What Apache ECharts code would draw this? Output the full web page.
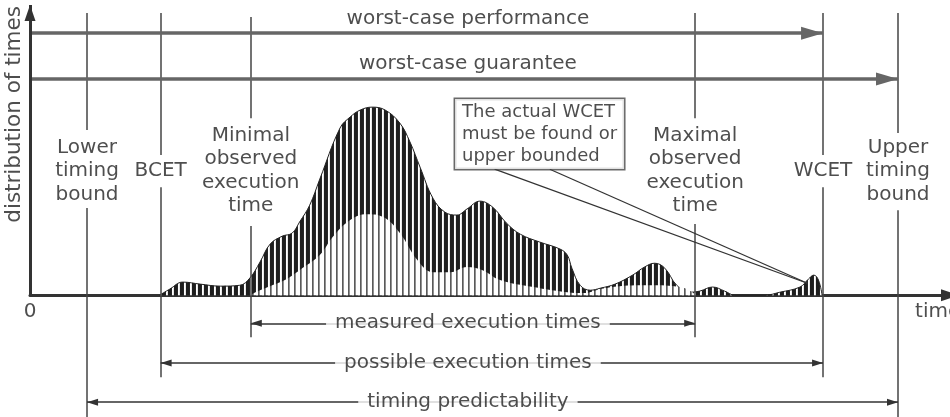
<!DOCTYPE html>
<html>
<head>
<meta charset="utf-8">
<script src="https://cdn.jsdelivr.net/npm/echarts@6/dist/echarts.min.js"></script>
<style>
  html, body { margin: 0; background: #fff; }
  #chart { width: 950px; height: 417px; }
</style>
</head>
<body>
<div id="chart"></div>
<script>
// time runs 0..100 (arbitrary units), distribution height 0..100
const eventNames = ['Lower\ntiming\nbound', 'BCET', 'Minimal\nobserved\nexecution\ntime',
  'Maximal\nobserved\nexecution\ntime', 'WCET', 'Upper\ntiming\nbound']
const eventTimes = [6.2, 14.2, 24.0, 72.3, 86.2, 94.35]

// all possible execution times (dark)
const possibleTimes = [14.1, 15.2, 16.6, 18.5, 20.7, 22.8, 23.9, 25.0, 26.1, 27.4, 28.5, 29.3, 30.4, 31.5,
  33.7, 34.8, 35.9, 37.2, 38.6, 40.2, 41.3, 42.4, 43.8, 45.1, 46.4, 47.5, 48.9, 50.3, 51.8, 53.3, 55.4,
  57.6, 58.4, 58.9, 59.8, 60.9, 62.0, 63.6, 65.5, 66.8, 67.9, 69.0, 70.3, 71.7, 72.8, 74.2, 75.5, 76.6,
  79.9, 81.5, 83.7, 84.6, 85.2, 85.7, 86.1]
const possibleDist = [0, 2.1, 4.5, 3.8, 3.1, 3.4, 5.9, 11.4, 17.6, 20.3, 21.4, 25.2, 31.0, 40.0,
  57.6, 61.4, 63.8, 64.8, 63.8, 59.3, 52.8, 44.1, 33.4, 28.6, 27.6, 29.7, 32.4, 30.3, 24.8, 21.0, 18.3,
  15.9, 13.8, 9.3, 3.4, 1.7, 2.4, 3.8, 6.9, 9.7, 11.0, 9.3, 3.4, 1.0, 1.4, 2.8, 1.4, 0,
  0, 1.0, 2.8, 5.5, 6.9, 5.2, 0]

// measured execution times (light)
const measuredTimes = [23.9, 25.0, 26.1, 27.7, 29.3, 31.5, 32.9, 34.8, 36.6, 38.4, 40.2, 42.1, 43.8,
  45.7, 47.5, 49.2, 51.1, 54.7, 58.4, 60.3, 62.0, 64.1, 67.4, 70.7, 72.0, 72.3]
const measuredDist = [0, 1.7, 3.1, 5.2, 8.6, 13.8, 20.0, 25.9, 27.9, 26.9, 21.4, 12.1, 7.9,
  7.9, 9.7, 8.6, 5.2, 2.8, 1.0, 0.7, 2.1, 3.1, 3.4, 2.8, 1.0, 0]

const topArrowLabels = ['worst-case performance', 'worst-case guarantee']
const rangeLabels = ['measured execution times', 'possible execution times', 'timing predictability']
const calloutText = 'The actual WCET\nmust be found or\nupper bounded'

// layout (chart units)
const FONT = 'DejaVu Sans'
const TEXT = '#222'
const LINE = '#444'
const labelY = 42.8
const guideSpans = [ // [top, gapTop, gapBottom, bottom]
  [97.2, 56.9, 30.0, -42], [97.2, 48.3, 37.2, -28.3], [95.9, 61.0, 23.8, -14.5],
  [97.2, 61.0, 24.5, -14.5], [97.2, 48.3, 37.2, -28.3], [97.2, 55.9, 29.3, -42]
]
const topArrowY = [90.3, 74.5]
const topArrowEnd = [4, 5]
const topTextY = [95.2, 79.7]
const rangeY = [-9.7, -23.4, -36.9]
const rangeEnds = [[2, 3], [1, 4], [0, 5]]
const midX = 47.6

function stripes (pixels) {
  const c = document.createElement('canvas')
  c.width = pixels.length
  c.height = 4
  const ctx = c.getContext('2d')
  pixels.forEach((col, i) => {
    ctx.fillStyle = col
    ctx.fillRect(i, 0, 1, 4)
  })
  return c
}
const darkHatch = stripes(['#1e1e1e', '#1e1e1e', '#1e1e1e', '#262626', '#fff', '#e6e6e6'])
const lightHatch = stripes(['#5a5a5a', '#909090', '#fff', '#fff', '#fff', '#fff'])

function seg (a, b, style, sym) {
  sym = sym || {}
  const off = sym.size ? [0, sym.size[1] / 2] : 0
  return [
    { coord: a, lineStyle: style, symbol: sym.from || 'none', symbolSize: sym.size, symbolOffset: off },
    { coord: b, symbol: sym.to || 'none', symbolSize: sym.size, symbolOffset: off }
  ]
}

const guideStyle = { color: LINE, width: 1.5, type: 'solid' }
const lines = []
eventTimes.forEach((t, i) => {
  const s = guideSpans[i]
  lines.push(seg([t, s[0]], [t, s[1]], guideStyle))
  lines.push(seg([t, s[2]], [t, s[3]], guideStyle))
})
topArrowLabels.forEach((n, i) => {
  lines.push(seg([0, topArrowY[i]], [eventTimes[topArrowEnd[i]], topArrowY[i]],
    { color: '#666', width: 3.5, type: 'solid' }, { to: 'triangle', size: [13, 22] }))
})
rangeLabels.forEach((n, i) => {
  const e = rangeEnds[i]
  lines.push(seg([eventTimes[e[0]], rangeY[i]], [eventTimes[e[1]], rangeY[i]],
    { color: '#333', width: 1.5, type: 'solid' }, { from: 'triangle', to: 'triangle', size: [7, 11] }))
})
// y axis with arrow
lines.push(seg([0, 0], [0, 100], { color: '#333', width: 3, type: 'solid' }, { to: 'triangle', size: [11, 16] }))
// callout pointers
lines.push(seg([50.5, 43.4], [84.5, 4.1], { color: '#333', width: 1.3, type: 'solid' }))
lines.push(seg([56.5, 43.4], [84.5, 4.1], { color: '#333', width: 1.3, type: 'solid' }))

const texts = []
eventTimes.forEach((t, i) => {
  texts.push({ name: eventNames[i], value: [t, labelY] })
})
topArrowLabels.forEach((n, i) => {
  texts.push({ name: n, value: [midX, topTextY[i]] })
})
rangeLabels.forEach((n, i) => {
  texts.push({ name: n, value: [midX, rangeY[i]], label: { backgroundColor: '#fff', padding: [0, 9] } })
})
texts.push({ name: '0', value: [0, -5.9] })
texts.push({ name: 'time', value: [96.2, -5.9], label: { align: 'left' } })
texts.push({ name: 'distribution of times', value: [-1.7, 62.3], label: { rotate: 90, fontSize: 21.5 } })
texts.push({
  name: calloutText,
  value: [46.2, 67.6],
  label: {
    position: [0, 0], align: 'left', verticalAlign: 'top', fontSize: 18, lineHeight: 22,
    width: 155, height: 66, padding: [2, 7], backgroundColor: '#fff', borderColor: '#444', borderWidth: 1.5
  }
})

const chart = echarts.init(document.getElementById('chart'))
chart.setOption({
  animation: false,
  backgroundColor: '#fff',
  grid: { left: 30, right: 0, top: 5, bottom: 0, containLabel: false, outerBoundsMode: 'none' },
  xAxis: {
    type: 'value',
    min: 0,
    max: 100,
    interval: 50,
    axisLine: {
      show: true,
      onZero: true,
      symbol: ['none', 'triangle'],
      symbolSize: [12, 18],
      lineStyle: { color: '#333', width: 3 }
    },
    axisTick: { show: false },
    splitLine: { show: false },
    axisLabel: { show: false }
  },
  yAxis: { type: 'value', min: -42, max: 100, show: false },
  series: [
    {
      name: 'possible',
      type: 'line',
      smooth: 0.4,
      symbol: 'none',
      z: 2,
      lineStyle: { color: '#222', width: 1 },
      areaStyle: { color: { image: darkHatch, repeat: 'repeat' }, opacity: 1 },
      data: possibleTimes.map((t, i) => [t, possibleDist[i]])
    },
    {
      name: 'measured',
      type: 'line',
      smooth: 0.4,
      symbol: 'none',
      z: 3,
      lineStyle: { width: 0 },
      areaStyle: { color: { image: lightHatch, repeat: 'repeat' }, opacity: 1 },
      data: measuredTimes.map((t, i) => [t, measuredDist[i]])
    },
    {
      name: 'annotations',
      type: 'scatter',
      symbolSize: 0,
      clip: false,
      z: 10,
      silent: true,
      label: {
        show: true,
        position: 'inside',
        formatter: '{b}',
        fontFamily: FONT,
        fontSize: 20,
        lineHeight: 23.5,
        color: TEXT
      },
      markLine: {
        silent: true,
        animation: false,
        symbol: ['none', 'none'],
        label: { show: false },
        lineStyle: { color: LINE, width: 1.5, type: 'solid' },
        data: lines
      },
      data: texts
    }
  ]
})
</script>
</body>
</html>
